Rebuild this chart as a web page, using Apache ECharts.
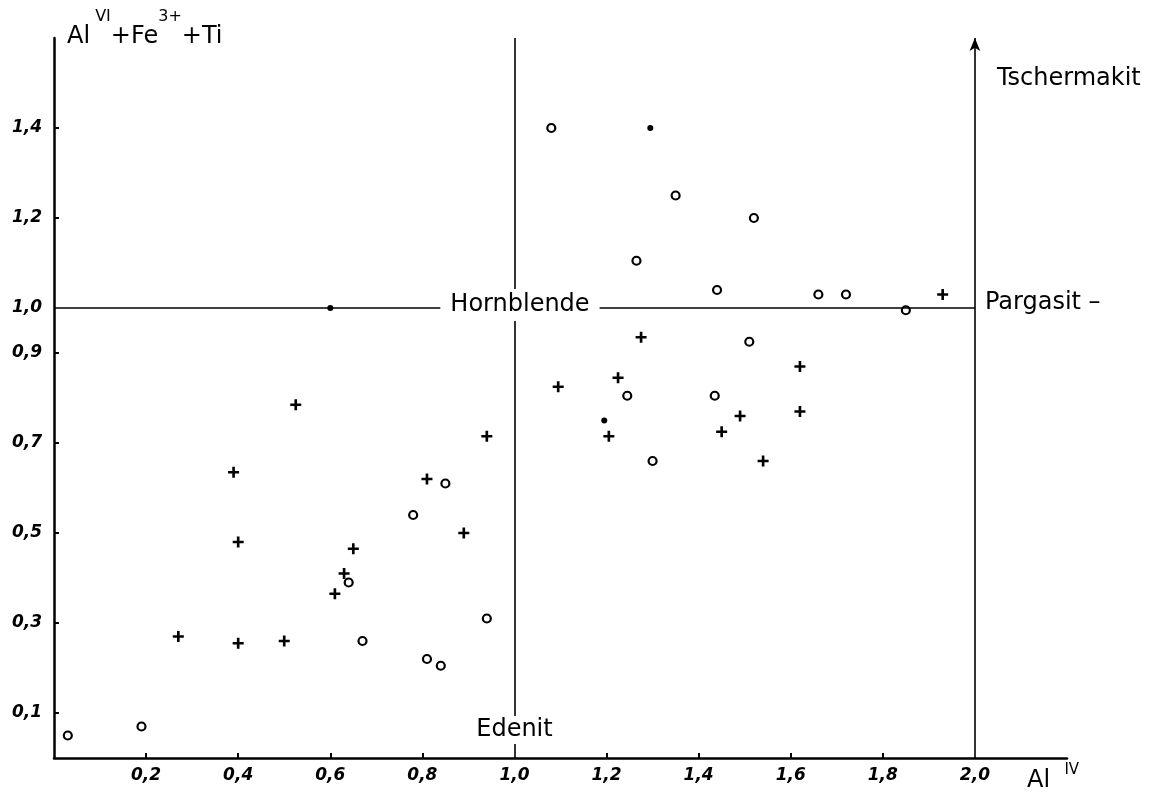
<!DOCTYPE html>
<html>
<head>
<meta charset="utf-8">
<title>Amphibole Al(IV) vs Al(VI)+Fe3+ +Ti</title>
<script src="https://cdn.jsdelivr.net/npm/echarts@6/dist/echarts.min.js"></script>
<style>
  html, body { margin: 0; padding: 0; background: #fff; }
  #chart { width: 1152px; height: 793px; }
</style>
</head>
<body>
<div id="chart"></div>
<script>
// values: [Al IV, Al VI + Fe3+ + Ti]
const openCircles = [
  [0.03, 0.05], [0.19, 0.07], [0.64, 0.39], [0.67, 0.26], [0.78, 0.54],
  [0.81, 0.22], [0.84, 0.205], [0.85, 0.61], [0.94, 0.31], [1.08, 1.40],
  [1.35, 1.25], [1.52, 1.20], [1.265, 1.105], [1.44, 1.04], [1.51, 0.925],
  [1.245, 0.805], [1.435, 0.805], [1.30, 0.66], [1.66, 1.03], [1.72, 1.03],
  [1.85, 0.995]
]
const crosses = [
  [0.27, 0.27], [0.39, 0.635], [0.40, 0.48], [0.40, 0.255], [0.50, 0.26],
  [0.525, 0.785], [0.61, 0.365], [0.63, 0.41], [0.65, 0.465], [0.81, 0.62],
  [0.89, 0.50], [0.94, 0.715], [1.095, 0.825], [1.225, 0.845], [1.275, 0.935],
  [1.205, 0.715], [1.49, 0.76], [1.45, 0.725], [1.54, 0.66], [1.62, 0.87],
  [1.62, 0.77], [1.93, 1.03]
]
const filledDots = [[0.60, 1.0], [1.295, 1.40], [1.195, 0.75]]

const xLabels = [0.2, 0.4, 0.6, 0.8, 1.0, 1.2, 1.4, 1.6, 1.8, 2.0]
const xTicks = [0.2, 0.4, 0.6, 0.8, 1.2, 1.4, 1.6, 1.8]
const yLabels = [0.1, 0.3, 0.5, 0.7, 0.9, 1.0, 1.2, 1.4]
const yTicks = [0.1, 0.3, 0.5, 0.7, 0.9, 1.2, 1.4]

// boundary lines of the classification
const hornblendeY = 1.0
const edenitX = 1.0
const pargasitX = 2.0

const ink = '#000'
const tickFont = {
  color: ink,
  fontFamily: 'DejaVu Sans',
  fontStyle: 'italic',
  fontWeight: 'bold',
  fontSize: 17
}
const fmt = v => v.toFixed(1).replace('.', ',')

const chart = echarts.init(document.getElementById('chart'))

chart.setOption({
  backgroundColor: '#fff',
  animation: false,
  grid: { left: 54, right: 85, top: 38, bottom: 35 },
  xAxis: {
    type: 'value',
    min: 0,
    max: 2.2,
    interval: 0.2,
    splitLine: { show: false },
    axisLine: { lineStyle: { color: ink, width: 2.5 } },
    axisTick: { inside: true, length: 5, customValues: xTicks, lineStyle: { color: ink, width: 2 } },
    axisLabel: { ...tickFont, margin: 9, customValues: xLabels, formatter: fmt }
  },
  yAxis: {
    type: 'value',
    min: 0,
    max: 1.6,
    interval: 0.1,
    splitLine: { show: false },
    axisLine: { lineStyle: { color: ink, width: 2.5 } },
    axisTick: { inside: true, length: 5, customValues: yTicks, lineStyle: { color: ink, width: 2 } },
    axisLabel: { ...tickFont, margin: 12, customValues: yLabels, formatter: fmt }
  },
  graphic: [
    {
      type: 'text',
      left: 67,
      top: 9,
      style: {
        text: '{m|Al}{s| VI}{m|+Fe}{s|3+}{m|+Ti}',
        fill: ink,
        rich: {
          m: { fontFamily: 'DejaVu Sans', fontSize: 24, lineHeight: 40, verticalAlign: 'bottom', fill: ink },
          s: { fontFamily: 'DejaVu Sans', fontSize: 16, lineHeight: 40, verticalAlign: 'top', fill: ink }
        }
      }
    },
    {
      type: 'text',
      left: 1027,
      top: 763,
      style: {
        text: '{m|Al}{s|   IV}',
        fill: ink,
        rich: {
          m: { fontFamily: 'DejaVu Sans', fontSize: 24, lineHeight: 30, verticalAlign: 'bottom', fill: ink },
          s: { fontFamily: 'DejaVu Sans', fontSize: 15, lineHeight: 30, verticalAlign: 'top', fill: ink }
        }
      }
    }
  ],
  series: [
    {
      // field boundaries
      type: 'scatter',
      data: [],
      z: 1,
      markLine: {
        silent: true,
        symbol: ['none', 'none'],
        label: { show: false },
        lineStyle: { color: ink, width: 1.6, type: 'solid', opacity: 1 },
        data: [
          [{ coord: [0, hornblendeY] }, { coord: [pargasitX, hornblendeY] }],
          [{ coord: [edenitX, 0] }, { coord: [edenitX, 1.6] }],
          [{ coord: [pargasitX, 0] }, { coord: [pargasitX, 1.6], symbol: 'arrow', symbolSize: [8, 13] }]
        ]
      }
    },
    {
      // field names
      type: 'scatter',
      z: 5,
      symbolSize: 0,
      silent: true,
      itemStyle: { opacity: 1 },
      label: {
        show: true,
        color: ink,
        fontFamily: 'DejaVu Sans',
        fontSize: 24,
        formatter: p => p.data.name
      },
      data: [
        { name: 'Hornblende', value: [1.012, hornblendeY],
          label: { position: 'inside', backgroundColor: '#fff', padding: [4, 10], offset: [0, -3] } },
        { name: 'Edenit', value: [edenitX, 0.062],
          label: { position: 'inside', backgroundColor: '#fff', padding: [2, 4] } },
        { name: 'Pargasit –', value: [pargasitX, hornblendeY],
          label: { position: 'right', distance: 10, offset: [0, -5] } },
        { name: 'Tschermakit', value: [pargasitX, 1.51],
          label: { position: 'right', distance: 22 } }
      ]
    },
    {
      name: 'open circles',
      type: 'scatter',
      z: 3,
      symbol: 'circle',
      symbolSize: 8,
      itemStyle: { color: '#fff', borderColor: ink, borderWidth: 2.2, opacity: 1 },
      data: openCircles
    },
    {
      name: 'crosses',
      type: 'scatter',
      z: 3,
      symbol: 'path://M3.8,0h2.4v3.8h3.8v2.4h-3.8v3.8h-2.4v-3.8h-3.8v-2.4h3.8z',
      symbolSize: 11,
      itemStyle: { color: ink, opacity: 1 },
      data: crosses
    },
    {
      name: 'filled dots',
      type: 'scatter',
      z: 3,
      symbol: 'circle',
      symbolSize: 6,
      itemStyle: { color: ink, opacity: 1 },
      data: filledDots
    }
  ]
})
</script>
</body>
</html>
